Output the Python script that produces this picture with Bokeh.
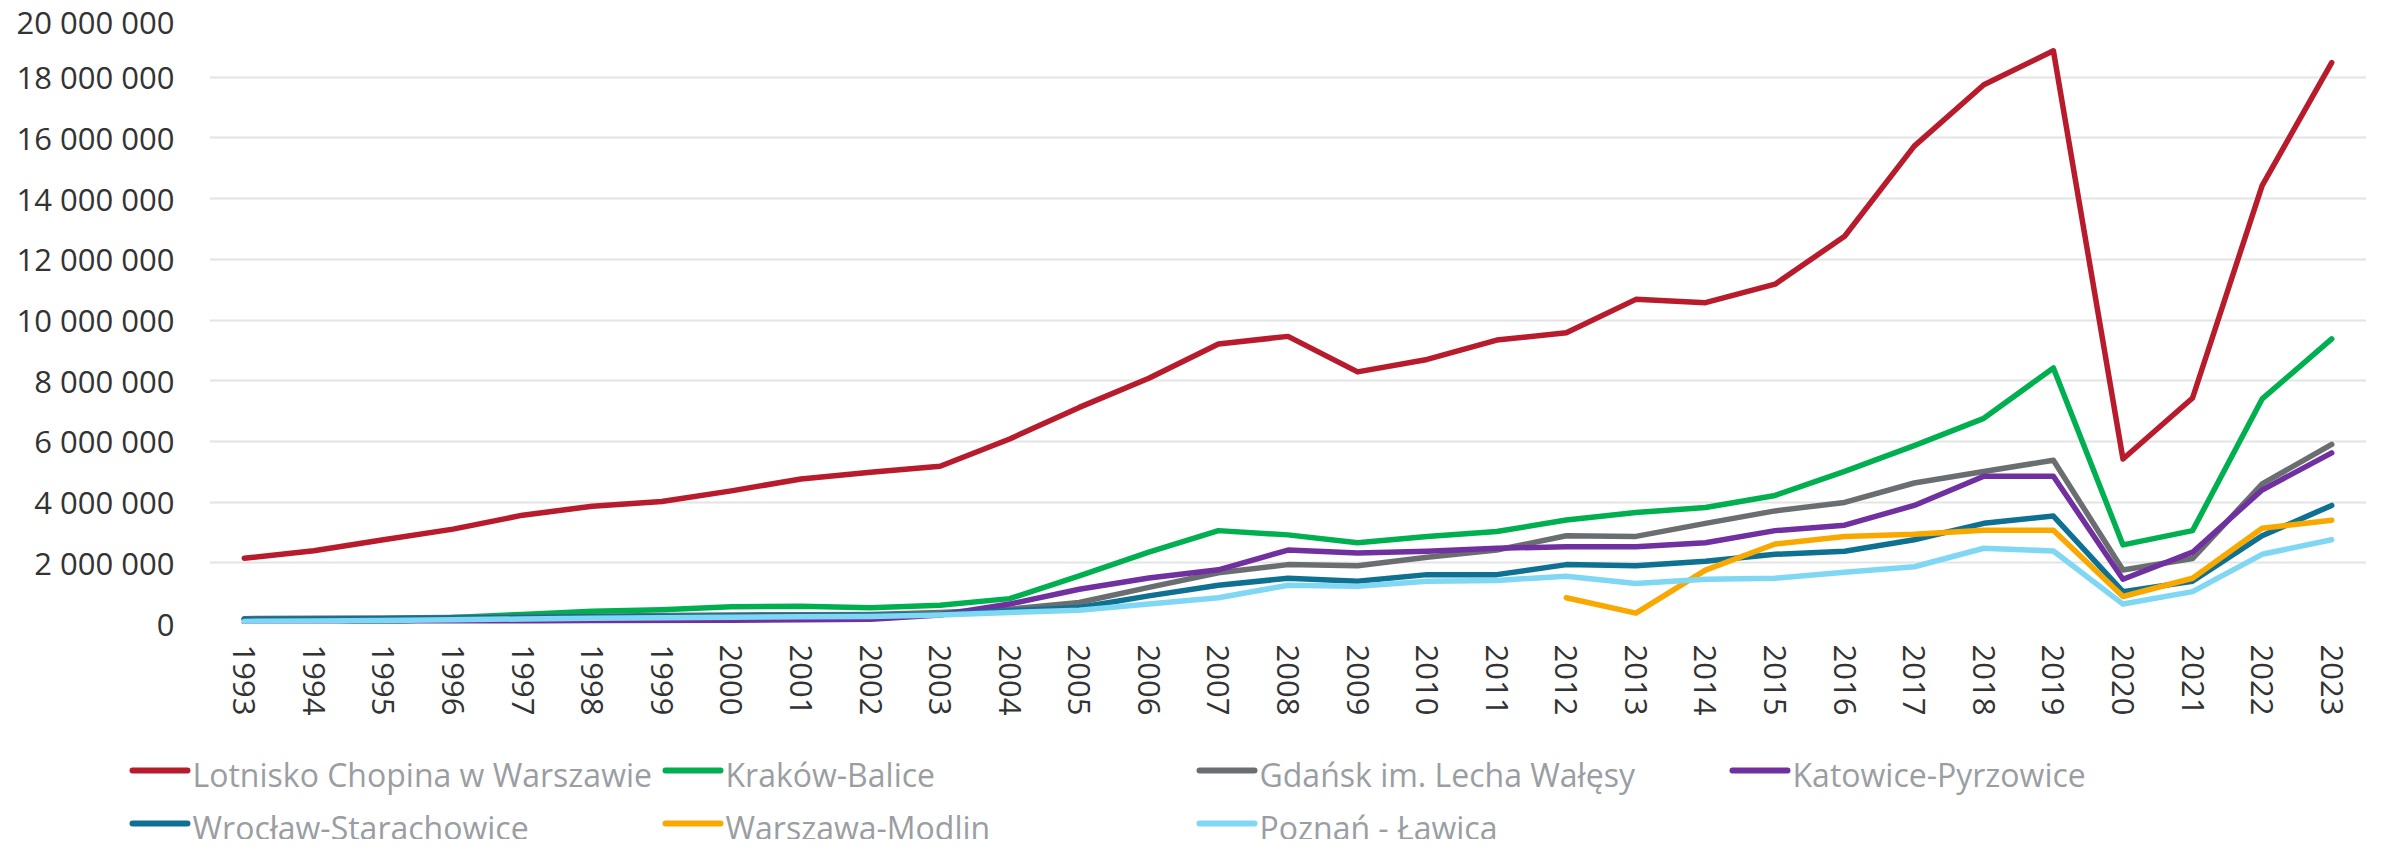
import numpy as np
from bokeh.plotting import figure
from bokeh.models import Range1d, FixedTicker, CustomJSTickFormatter, ColumnDataSource
from bokeh.core.properties import value
from bokeh.embed import file_html
from bokeh.resources import INLINE

years = list(range(1993, 2024))

chopin = [2.15, 2.40, 2.76, 3.11, 3.57, 3.86, 4.02, 4.37, 4.76, 4.98, 5.18, 6.08, 7.12, 8.08, 9.21,
          9.46, 8.29, 8.70, 9.34, 9.58, 10.68, 10.57, 11.18, 12.76, 15.73, 17.75, 18.87, 5.42, 7.43, 14.43, 18.48]
krakow = [0.14, 0.15, 0.02, 0.20, 0.30, 0.40, 0.45, 0.55, 0.57, 0.52, 0.60, 0.82, 1.57, 2.35, 3.06,
          2.92, 2.66, 2.87, 3.03, 3.41, 3.66, 3.82, 4.22, 5.01, 5.86, 6.76, 8.42, 2.59, 3.06, 7.40, 9.38]
gdansk = [0.16, 0.17, 0.18, 0.20, 0.22, 0.24, 0.26, 0.28, 0.29, 0.30, 0.36, 0.47, 0.69, 1.19, 1.67,
          1.94, 1.90, 2.18, 2.42, 2.89, 2.87, 3.30, 3.71, 3.99, 4.63, 5.01, 5.38, 1.76, 2.14, 4.60, 5.90]
katowice = [0.02, 0.02, 0.03, 0.05, 0.07, 0.09, 0.10, 0.11, 0.12, 0.14, 0.28, 0.64, 1.13, 1.50, 1.77,
            2.42, 2.32, 2.38, 2.48, 2.53, 2.53, 2.66, 3.06, 3.24, 3.89, 4.85, 4.85, 1.46, 2.35, 4.40, 5.62]
wroclaw = [0.14, 0.15, 0.16, 0.18, 0.20, 0.22, 0.23, 0.25, 0.26, 0.27, 0.30, 0.42, 0.53, 0.91, 1.26,
           1.49, 1.39, 1.61, 1.61, 1.94, 1.90, 2.05, 2.28, 2.38, 2.76, 3.30, 3.54, 1.05, 1.39, 2.89, 3.89]
modlin = [None] * 19 + [0.85, 0.34, 1.76, 2.62, 2.87, 2.94, 3.07, 3.07, 0.89, 1.49, 3.14, 3.40]
poznan = [0.07, 0.08, 0.10, 0.12, 0.15, 0.17, 0.19, 0.21, 0.22, 0.23, 0.28, 0.36, 0.44, 0.64, 0.85,
          1.26, 1.23, 1.39, 1.42, 1.56, 1.32, 1.46, 1.49, 1.69, 1.87, 2.48, 2.39, 0.64, 1.05, 2.28, 2.76]

names = ["Lotnisko Chopina w Warszawie", "Kraków-Balice", "Gdańsk im. Lecha Wałęsy",
         "Katowice-Pyrzowice", "Wrocław-Starachowice", "Warszawa-Modlin", "Poznań - Ławica"]
series = [chopin, krakow, gdansk, katowice, wroclaw, modlin, poznan]
colors = ["#B81B2B", "#00B050", "#6B6E70", "#7030A0", "#0F7192", "#F9A800", "#7FD7F3"]
y_ticks = [0, 2e6, 4e6, 6e6, 8e6, 10e6, 12e6, 14e6, 16e6, 18e6, 20e6]

p = figure(frame_width=2157, frame_height=607, output_backend="svg", toolbar_location=None,
           x_range=Range1d(1992.5, 2023.5), y_range=Range1d(0, 20e6),
           min_border_left=209, min_border_right=0, min_border_top=16, min_border_bottom=118)
p.outline_line_color = None
p.background_fill_color = "white"

for s, c in zip(series, colors):
    vals = np.array([np.nan if v is None else v * 1e6 for v in s], dtype=float)
    p.line(years, vals, line_color=c, line_width=5.5, line_cap="round", line_join="round")

p.xgrid.grid_line_color = None
p.ygrid.grid_line_color = "#E4E4E4"
p.ygrid.grid_line_width = 2
p.yaxis.ticker = FixedTicker(ticks=y_ticks)
p.yaxis.formatter = CustomJSTickFormatter(
    code="return tick.toFixed(0).replace(/\\B(?=(\\d{3})+(?!\\d))/g, ' ');")
p.xaxis.ticker = FixedTicker(ticks=years)
p.xaxis.formatter = CustomJSTickFormatter(code="return tick.toFixed(0);")
p.xaxis.major_label_orientation = "vertical"
for ax in (p.xaxis, p.yaxis):
    ax.axis_line_color = None
    ax.major_tick_line_color = None
    ax.minor_tick_line_color = None
    ax.major_tick_out = 0
    ax.major_tick_in = 0
    ax.major_label_text_font = "Open Sans"
    ax.major_label_text_font_size = "31px"
    ax.major_label_text_color = "#333333"
p.yaxis.major_label_standoff = 35
p.xaxis.major_label_standoff = 21

# legend figure (pixel coordinates), rendered as a separate root below the chart
LW, LH = 2366, 98
lg = figure(frame_width=LW, frame_height=LH, output_backend="svg", toolbar_location=None,
            x_range=Range1d(0, LW), y_range=Range1d(LH, 0),
            x_axis_type=None, y_axis_type=None, min_border=0)
lg.outline_line_color = None
lg.grid.grid_line_color = None
col_x = [132, 665, 1199, 1732]
row_y = [29, 82]
xs0, xs1, ys, tys, tx = [], [], [], [], []
for i in range(len(names)):
    r, cidx = divmod(i, 4)
    xs0.append(col_x[cidx])
    xs1.append(col_x[cidx] + 55)
    ys.append(row_y[r])
    tys.append(row_y[r] + 4)
    tx.append(col_x[cidx] + 60)
src = ColumnDataSource(dict(x0=xs0, x1=xs1, y=ys, ty=tys, tx=tx, name=names, color=colors))
lg.segment(x0="x0", y0="y", x1="x1", y1="y", line_color="color", line_width=6,
           line_cap="round", source=src)
lg.text(x="tx", y="ty", text="name", text_font=value("Open Sans"), text_font_size="32px",
        text_color="#9A9EA2", text_baseline="alphabetic", text_align="left", source=src)

open("out.html", "w").write(file_html([p, lg], INLINE))
